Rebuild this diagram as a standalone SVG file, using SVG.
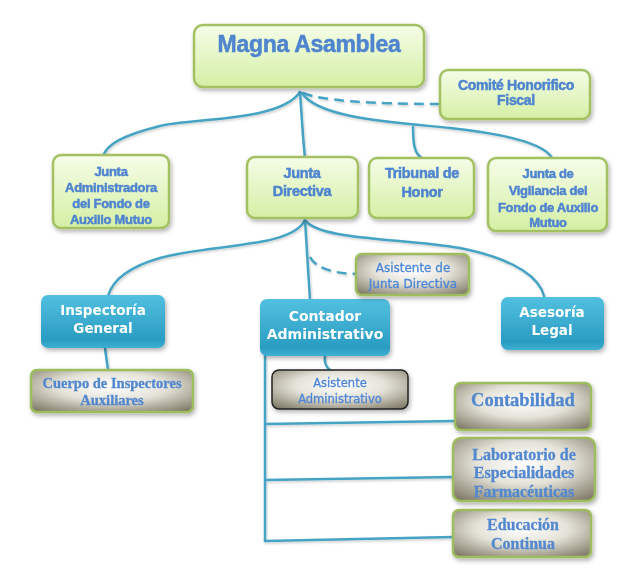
<svg xmlns="http://www.w3.org/2000/svg" width="641" height="587" viewBox="0 0 641 587">
<defs>
  <linearGradient id="gGreen" x1="0" y1="0" x2="0" y2="1">
    <stop offset="0" stop-color="#f5fde8"/>
    <stop offset="1" stop-color="#d5efa4"/>
  </linearGradient>
  <linearGradient id="gBlue" x1="0" y1="0" x2="0" y2="1">
    <stop offset="0" stop-color="#52c0e0"/>
    <stop offset="0.85" stop-color="#2a9cc2"/>
    <stop offset="1" stop-color="#3fb0d2"/>
  </linearGradient>
  <radialGradient id="gGray" cx="0.5" cy="0.4" r="0.75">
    <stop offset="0" stop-color="#ffffff"/>
    <stop offset="0.45" stop-color="#e4e2d8"/>
    <stop offset="1" stop-color="#7a7460"/>
  </radialGradient>
  <filter id="sh" x="-10%" y="-10%" width="125%" height="135%">
    <feDropShadow dx="1.5" dy="2.5" stdDeviation="2" flood-color="#000" flood-opacity="0.3"/>
  </filter>
  <filter id="lsh" x="-5%" y="-20%" width="110%" height="140%">
    <feDropShadow dx="1" dy="1.5" stdDeviation="1" flood-color="#000" flood-opacity="0.2"/>
  </filter>
</defs>
<style>
  .green{fill:url(#gGreen);stroke:#a3c163;stroke-width:2.5}
  .blue{fill:url(#gBlue);stroke:none}
  .gray{fill:url(#gGray);stroke:#9ebd5f;stroke-width:2.5}
  .grayk{fill:url(#gGray);stroke:#222;stroke-width:1.5}
  .tg{font-family:"Liberation Sans",Arial,sans-serif;font-weight:bold;fill:#4f84cf;stroke:#4f84cf;stroke-width:0.5;text-anchor:middle;letter-spacing:-0.3px}
  .tb{font-family:"DejaVu Sans",Verdana,sans-serif;font-weight:bold;fill:#ffffff;text-anchor:middle}
  .ts{font-family:"Liberation Serif","Times New Roman",serif;font-weight:bold;fill:#5288cf;stroke:#5288cf;stroke-width:0.3;text-anchor:middle}
  .ta{font-family:"DejaVu Sans",Verdana,sans-serif;fill:#4d86d6;stroke:#4d86d6;stroke-width:0.3;text-anchor:middle}
  .c{fill:none;stroke:#45a3c3;stroke-width:2.5;stroke-linecap:round}
  .d{fill:none;stroke:#45a3c3;stroke-width:2.5;stroke-dasharray:10 6}
</style>

<g id="connectors" filter="url(#lsh)">
  <path class="c" d="M300,92 C280,122 190,118 160,126 C120,136 107,145 103,156"/>
  <path class="c" d="M300,92 C302,120 303,140 305,158"/>
  <path class="d" d="M303,93 Q330,104 440,104"/>
  <path class="c" d="M302,93 C318,118 390,122 450,128 C515,135 545,145 552,158"/>
  <path class="c" d="M413,127 C413,146 415,154 422,158"/>
  <path class="c" d="M305,220 C292,248 210,244 160,258 C125,268 112,282 108,296"/>
  <path class="c" d="M305,220 C307,250 309,280 310,300"/>
  <path class="d" d="M310,257 Q318,273 357,274"/>
  <path class="c" d="M305,220 C318,240 400,238 460,248 C520,260 540,280 544,296"/>
  <path class="c" d="M105,348 C106,356 107,362 108,370"/>
  <path class="c" d="M325,356 C324,362 326,367 330,370"/>
  <path class="c" d="M265,356 L265,541"/>
  <path class="c" d="M265,424 L455,421"/>
  <path class="c" d="M265,480 L453,477"/>
  <path class="c" d="M265,541 L453,537"/>
</g>

<g id="magna-asamblea" filter="url(#sh)">
  <rect class="green" x="194" y="25" width="230" height="62" rx="9"/>
  <text class="tg" x="309" y="52" font-size="23" letter-spacing="0" stroke-width="0.8">Magna Asamblea</text>
</g>

<g id="comite" filter="url(#sh)">
  <rect class="green" x="440" y="70" width="150" height="49" rx="8"/>
  <text class="tg" x="516" y="90" font-size="14">Comité Honorifico</text>
  <text class="tg" x="516" y="105" font-size="14">Fiscal</text>
</g>

<g id="junta-administradora" filter="url(#sh)">
  <rect class="green" x="53" y="155" width="116" height="73" rx="8"/>
  <text class="tg" x="111" y="176" font-size="13">Junta</text>
  <text class="tg" x="111" y="192" font-size="13">Administradora</text>
  <text class="tg" x="111" y="208" font-size="13">del Fondo de</text>
  <text class="tg" x="111" y="224" font-size="13">Auxilio Mutuo</text>
</g>

<g id="junta-directiva" filter="url(#sh)">
  <rect class="green" x="247" y="157" width="111" height="61" rx="8"/>
  <text class="tg" x="302" y="178" font-size="14.5">Junta</text>
  <text class="tg" x="302" y="196" font-size="14.5">Directiva</text>
</g>

<g id="tribunal" filter="url(#sh)">
  <rect class="green" x="369" y="158" width="105" height="60" rx="8"/>
  <text class="tg" x="422" y="178" font-size="14.5">Tribunal de</text>
  <text class="tg" x="422" y="197" font-size="14.5">Honor</text>
</g>

<g id="junta-vigilancia" filter="url(#sh)">
  <rect class="green" x="488" y="158" width="119" height="73" rx="8"/>
  <text class="tg" x="548" y="178" font-size="13">Junta de</text>
  <text class="tg" x="548" y="195" font-size="13">Vigilancia del</text>
  <text class="tg" x="548" y="212" font-size="13">Fondo de Auxilio</text>
  <text class="tg" x="548" y="227" font-size="13">Mutuo</text>
</g>

<g id="inspectoria" filter="url(#sh)">
  <rect class="blue" x="41" y="295" width="124" height="53" rx="7"/>
  <text class="tb" x="103" y="315" font-size="13.5">Inspectoría</text>
  <text class="tb" x="103" y="333" font-size="13.5">General</text>
</g>

<g id="contador" filter="url(#sh)">
  <rect class="blue" x="260" y="299" width="130" height="57" rx="7"/>
  <text class="tb" x="325" y="321" font-size="14">Contador</text>
  <text class="tb" x="325" y="339" font-size="14">Administrativo</text>
</g>

<g id="asesoria" filter="url(#sh)">
  <rect class="blue" x="501" y="297" width="103" height="53" rx="7"/>
  <text class="tb" x="552" y="317" font-size="13.5">Asesoría</text>
  <text class="tb" x="552" y="335" font-size="13.5">Legal</text>
</g>

<g id="asistente-junta" filter="url(#sh)">
  <rect class="gray" x="356" y="254" width="113" height="41" rx="6"/>
  <text class="ta" x="413" y="272" font-size="12">Asistente de</text>
  <text class="ta" x="413" y="288" font-size="12">Junta Directiva</text>
</g>

<g id="cuerpo-inspectores" filter="url(#sh)">
  <rect class="gray" x="31" y="370" width="162" height="42" rx="6"/>
  <text class="ts" x="112" y="388" font-size="14.5">Cuerpo de Inspectores</text>
  <text class="ts" x="112" y="405" font-size="14.5">Auxiliares</text>
</g>

<g id="asistente-administrativo" filter="url(#sh)">
  <rect class="grayk" x="272" y="370" width="136" height="39" rx="7"/>
  <text class="ta" x="340" y="387" font-size="11.5">Asistente</text>
  <text class="ta" x="340" y="403" font-size="11.5">Administrativo</text>
</g>

<g id="contabilidad" filter="url(#sh)">
  <rect class="gray" x="455" y="383" width="136" height="47" rx="6"/>
  <text class="ts" x="523" y="406" font-size="18.5">Contabilidad</text>
</g>

<g id="laboratorio" filter="url(#sh)">
  <rect class="gray" x="453" y="438" width="142" height="63" rx="8"/>
  <text class="ts" x="524" y="460" font-size="16">Laboratorio de</text>
  <text class="ts" x="524" y="478" font-size="16">Especialidades</text>
  <text class="ts" x="524" y="497" font-size="16">Farmacéuticas</text>
</g>

<g id="educacion" filter="url(#sh)">
  <rect class="gray" x="453" y="510" width="138" height="47" rx="6"/>
  <text class="ts" x="523" y="530" font-size="16">Educación</text>
  <text class="ts" x="523" y="549" font-size="16">Continua</text>
</g>
</svg>
